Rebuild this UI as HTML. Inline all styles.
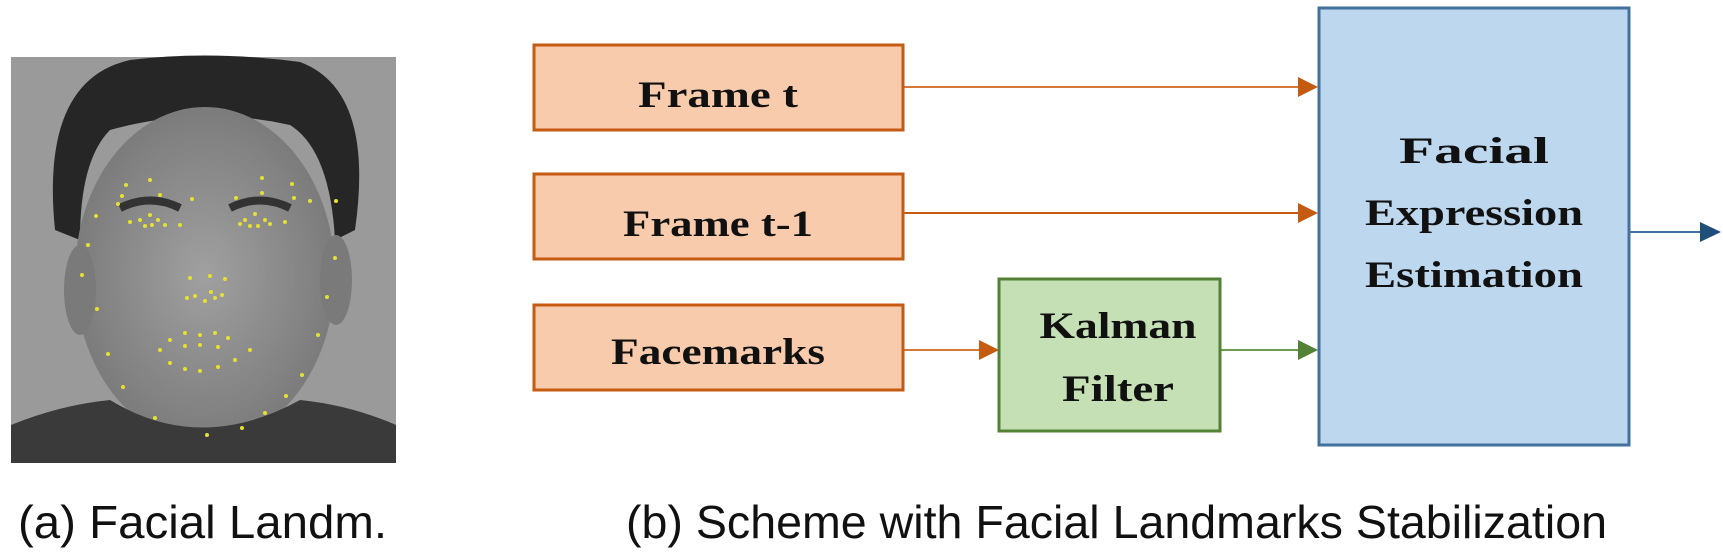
<!DOCTYPE html>
<html><head><meta charset="utf-8"><style>html,body{margin:0;padding:0;background:#fff;width:1723px;height:552px;overflow:hidden}</style></head>
<body>
<svg width="1723" height="552" viewBox="0 0 1723 552" xmlns="http://www.w3.org/2000/svg">
<defs>
<radialGradient id="fg" cx="50%" cy="50%" r="55%"><stop offset="0" stop-color="#a0a0a0"/><stop offset="1" stop-color="#787878"/></radialGradient>
</defs>
<rect x="11" y="57" width="385" height="406" fill="#9a9a9a"/>
<path d="M55 230 Q40 80 130 60 Q210 50 300 62 Q375 90 355 230 L335 240 Q330 150 290 125 Q200 105 110 130 Q80 160 80 240 Z" fill="#262626"/>
<ellipse cx="205" cy="275" rx="130" ry="168" fill="url(#fg)"/>
<ellipse cx="80" cy="290" rx="16" ry="45" fill="#7a7a7a"/>
<ellipse cx="336" cy="280" rx="16" ry="45" fill="#7a7a7a"/>
<path d="M11 425 Q60 405 110 400 Q200 455 300 400 Q350 405 396 425 L396 463 L11 463 Z" fill="#3a3a3a"/>
<path d="M120 208 Q150 193 180 208 M230 208 Q260 193 290 208" stroke="#333" stroke-width="8" fill="none"/>
<g fill="#e6e030">
<circle cx="96" cy="216" r="2"/><circle cx="126" cy="185" r="2"/><circle cx="150" cy="180" r="2"/><circle cx="160" cy="195" r="2"/><circle cx="192" cy="199" r="2"/><circle cx="122" cy="196" r="2"/><circle cx="118" cy="204" r="2"/>
<circle cx="262" cy="178" r="2"/><circle cx="262" cy="193" r="2"/><circle cx="292" cy="184" r="2"/><circle cx="294" cy="198" r="2"/><circle cx="310" cy="201" r="2"/><circle cx="336" cy="201" r="2"/><circle cx="236" cy="198" r="2"/>
<circle cx="140" cy="220" r="2"/><circle cx="150" cy="215" r="2"/><circle cx="158" cy="220" r="2"/><circle cx="152" cy="225" r="2"/><circle cx="145" cy="226" r="2"/><circle cx="165" cy="225" r="2"/><circle cx="180" cy="225" r="2"/><circle cx="130" cy="222" r="2"/>
<circle cx="245" cy="220" r="2"/><circle cx="255" cy="214" r="2"/><circle cx="265" cy="220" r="2"/><circle cx="258" cy="226" r="2"/><circle cx="250" cy="226" r="2"/><circle cx="270" cy="224" r="2"/><circle cx="285" cy="222" r="2"/><circle cx="240" cy="224" r="2"/>
<circle cx="190" cy="278" r="2"/><circle cx="210" cy="276" r="2"/><circle cx="225" cy="279" r="2"/><circle cx="187" cy="298" r="2"/><circle cx="195" cy="296" r="2"/><circle cx="205" cy="301" r="2"/><circle cx="215" cy="298" r="2"/><circle cx="222" cy="295" r="2"/><circle cx="211" cy="292" r="2"/>
<circle cx="170" cy="340" r="2"/><circle cx="185" cy="333" r="2"/><circle cx="200" cy="335" r="2"/><circle cx="215" cy="333" r="2"/><circle cx="228" cy="338" r="2"/><circle cx="160" cy="350" r="2"/><circle cx="185" cy="346" r="2"/><circle cx="200" cy="345" r="2"/><circle cx="218" cy="347" r="2"/><circle cx="250" cy="350" r="2"/><circle cx="170" cy="363" r="2"/><circle cx="185" cy="369" r="2"/><circle cx="200" cy="371" r="2"/><circle cx="218" cy="367" r="2"/><circle cx="235" cy="360" r="2"/>
<circle cx="88" cy="245" r="2"/><circle cx="82" cy="275" r="2"/><circle cx="97" cy="309" r="2"/><circle cx="108" cy="354" r="2"/><circle cx="123" cy="387" r="2"/><circle cx="155" cy="418" r="2"/><circle cx="207" cy="435" r="2"/><circle cx="242" cy="428" r="2"/><circle cx="265" cy="413" r="2"/><circle cx="286" cy="396" r="2"/><circle cx="302" cy="375" r="2"/><circle cx="318" cy="335" r="2"/><circle cx="327" cy="297" r="2"/><circle cx="335" cy="258" r="2"/>
</g>
<g stroke-width="2" fill="none">
<line x1="904" y1="87" x2="1302" y2="87" stroke="#d6783a"/>
<line x1="904" y1="213" x2="1302" y2="213" stroke="#c55a11"/>
<line x1="904" y1="350" x2="984" y2="350" stroke="#d6783a"/>
<line x1="1221" y1="350" x2="1302" y2="350" stroke="#6f9a50"/>
<line x1="1630" y1="232" x2="1702" y2="232" stroke="#41719c"/>
</g>
<polygon points="1298,77 1318,87 1298,97" fill="#c55a11"/>
<polygon points="1298,203 1318,213 1298,223" fill="#c55a11"/>
<polygon points="979,340 999,350 979,360" fill="#c55a11"/>
<polygon points="1298,340 1318,350 1298,360" fill="#548235"/>
<polygon points="1700,222 1721,232 1700,242" fill="#1f4e79"/>
<g stroke-width="3">
<rect x="534" y="45" width="369" height="85" fill="#f8cbad" stroke="#c55a11"/>
<rect x="534" y="174" width="369" height="85" fill="#f8cbad" stroke="#c55a11"/>
<rect x="534" y="305" width="369" height="85" fill="#f8cbad" stroke="#c55a11"/>
<rect x="999" y="279" width="221" height="152" fill="#c5e0b4" stroke="#548235"/>
<rect x="1319" y="8" width="310" height="437" fill="#bdd7ee" stroke="#41719c"/>
</g>
<g font-family="Liberation Serif, serif" font-weight="bold" font-size="37" fill="#111" text-anchor="middle">
<text x="718" y="107" textLength="160" lengthAdjust="spacingAndGlyphs">Frame t</text>
<text x="718" y="236" textLength="190" lengthAdjust="spacingAndGlyphs">Frame t-1</text>
<text x="718" y="364" textLength="214" lengthAdjust="spacingAndGlyphs">Facemarks</text>
<text x="1118" y="338" textLength="157" lengthAdjust="spacingAndGlyphs">Kalman</text>
<text x="1118" y="401" textLength="112" lengthAdjust="spacingAndGlyphs">Filter</text>
<text x="1474" y="163" textLength="150" lengthAdjust="spacingAndGlyphs">Facial</text>
<text x="1474" y="225" textLength="218" lengthAdjust="spacingAndGlyphs">Expression</text>
<text x="1474" y="287" textLength="218" lengthAdjust="spacingAndGlyphs">Estimation</text>
</g>
<g font-family="Liberation Sans, sans-serif" font-size="46" fill="#111">
<text x="18" y="538" textLength="369" lengthAdjust="spacingAndGlyphs">(a) Facial Landm.</text>
<text x="626" y="538" textLength="981" lengthAdjust="spacingAndGlyphs">(b) Scheme with Facial Landmarks Stabilization</text>
</g>
</svg>
</body></html>
